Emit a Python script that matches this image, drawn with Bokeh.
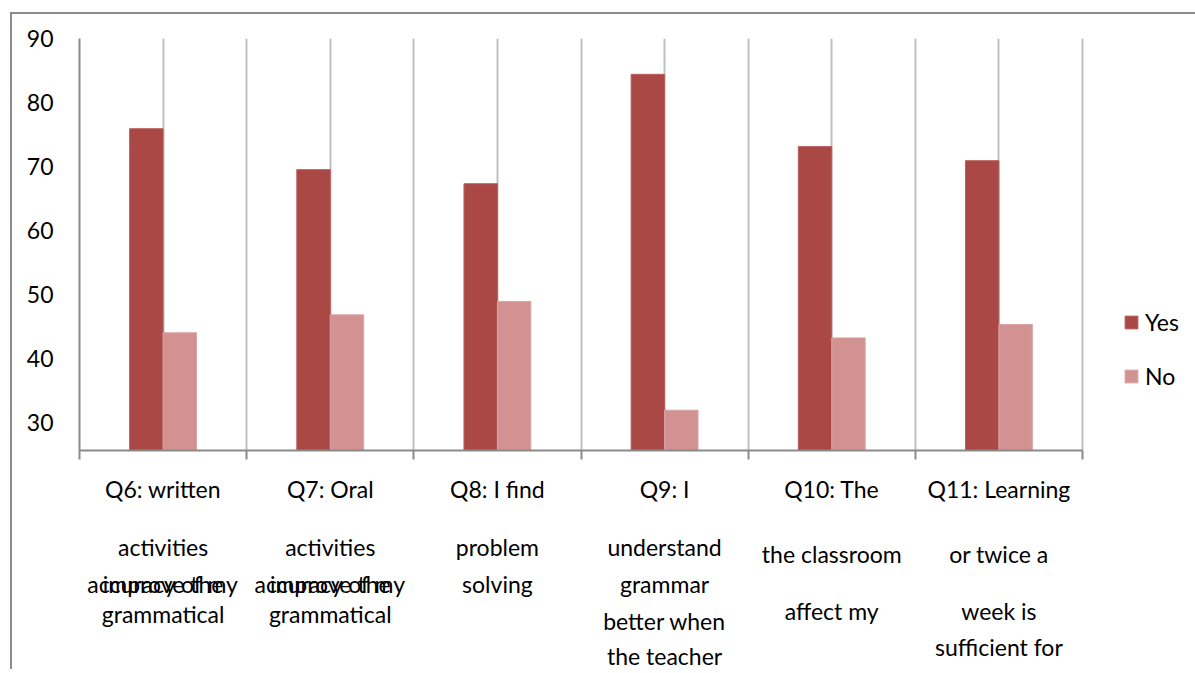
import numpy as np
from bokeh.plotting import figure
from bokeh.layouts import column
from bokeh.models import ColumnDataSource, FixedTicker, Range1d, Legend, LegendItem
from bokeh.core.properties import value
from bokeh.embed import file_html
from bokeh.resources import INLINE

# ---------------- data ----------------
categories = ["Q6", "Q7", "Q8", "Q9", "Q10", "Q11"]
yes_values = [75.9, 69.5, 67.3, 84.4, 73.1, 70.9]
no_values = [44.0, 46.8, 48.9, 31.9, 43.2, 45.3]
y_ticks = [30, 40, 50, 60, 70, 80, 90]
category_label_lines = [
    ["Q6: written", "activities", "improve the", "accuracy of my", "grammatical"],
    ["Q7: Oral", "activities", "improve the", "accuracy of my", "grammatical"],
    ["Q8: I find", "problem", "solving"],
    ["Q9: I", "understand", "grammar", "better when", "the teacher"],
    ["Q10: The", "the classroom", "affect my"],
    ["Q11: Learning", "or twice a", "week is", "sufficient for"],
]

# ---------------- layout / style ----------------
LINE_OFFSETS = [          # px below the x axis line
    [38, 96, 133, 133, 163],
    [38, 96, 133, 133, 163],
    [38, 96, 133],
    [38, 96, 133, 170, 205],
    [38, 103, 160],
    [38, 103, 160, 196],
]
FONT = "Lato"
YES_COLOR = "#AA4845"
NO_COLOR = "#D39292"
AXIS_COLOR = "#8A8A8A"
GRID_COLOR = "#C0C0C0"
BAR_W = 0.2

W = 1183            # figure width
LEFT = 67           # left border -> frame starts at x=79 in the window
CAT_PX = 1003 / 6   # pixels per category
TOP = 24
PLOT_H = 412        # frame height
BOT1 = 14           # space below frame in the top figure
H1 = TOP + PLOT_H + BOT1
H2 = 655 - H1

n = len(categories)
centers = np.arange(n) + 0.5
x_end = (W - LEFT) / CAT_PX

src = ColumnDataSource(dict(
    x_yes=centers - BAR_W / 2,
    x_no=centers + BAR_W / 2,
    yes=yes_values,
    no=no_values,
))

xr = Range1d(0, x_end)
p = figure(width=W, height=H1, output_backend="svg", toolbar_location=None,
           x_range=xr, y_range=Range1d(25.6, 90),
           min_border_left=LEFT, min_border_right=0, min_border_top=TOP, min_border_bottom=BOT1)
p.outline_line_color = None

r_yes = p.vbar(x="x_yes", top="yes", bottom=0, width=BAR_W, source=src,
               fill_color=YES_COLOR, line_color="#B65E5B", line_width=1)
r_no = p.vbar(x="x_no", top="no", bottom=0, width=BAR_W, source=src,
              fill_color=NO_COLOR, line_color="#DBA3A2", line_width=1)

# grid
p.ygrid.grid_line_color = None
p.xgrid.ticker = FixedTicker(ticks=list(np.arange(0, n + 0.01, 0.5)))
p.xgrid.grid_line_color = GRID_COLOR
p.xgrid.grid_line_width = 2

# y axis
p.yaxis.ticker = FixedTicker(ticks=y_ticks)
p.yaxis.axis_line_color = AXIS_COLOR
p.yaxis.axis_line_width = 2
p.yaxis.major_tick_line_color = None
p.yaxis.major_tick_out = 0
p.yaxis.major_tick_in = 0
p.yaxis.minor_tick_line_color = None
p.yaxis.major_label_standoff = 26
p.yaxis.major_label_text_font = FONT
p.yaxis.major_label_text_font_size = "23px"
p.yaxis.major_label_text_color = "black"

# x axis (boundary ticks only)
p.xaxis.bounds = (0, n)
p.xaxis.ticker = FixedTicker(ticks=list(range(n + 1)))
p.xaxis.axis_line_color = AXIS_COLOR
p.xaxis.axis_line_width = 2
p.xaxis.major_tick_line_color = AXIS_COLOR
p.xaxis.major_tick_line_width = 2
p.xaxis.major_tick_out = 9
p.xaxis.major_tick_in = 0
p.xaxis.minor_tick_line_color = None
p.xaxis.major_label_overrides = {i: "" for i in range(n + 1)}
p.xaxis.major_label_text_font_size = "1px"
p.xaxis.major_label_standoff = 0

# legend (inside the extended frame, right of the bars)
legend = Legend(items=[LegendItem(label="Yes", renderers=[r_yes]),
                       LegendItem(label="No", renderers=[r_no])],
                location=(1044, 60), orientation="vertical")
legend.border_line_color = None
legend.background_fill_alpha = 0
legend.padding = 0
legend.margin = 0
legend.spacing = 26
legend.glyph_width = 16
legend.glyph_height = 16
legend.label_standoff = 6
legend.label_text_font = FONT
legend.label_text_font_size = "23px"
legend.label_text_color = "black"
p.add_layout(legend, "center")

# category labels in a companion figure sharing the x range
lx, ly, lt = [], [], []
for i, lines in enumerate(category_label_lines):
    for j, t in enumerate(lines):
        lx.append(centers[i])
        ly.append(-LINE_OFFSETS[i][j])
        lt.append(t)
lab_src = ColumnDataSource(dict(x=lx, y=ly, text=lt))

p2 = figure(width=W, height=H2, output_backend="svg", toolbar_location=None,
            x_range=xr, y_range=Range1d(-(BOT1 + H2), -BOT1),
            min_border_left=LEFT, min_border_right=0, min_border_top=0, min_border_bottom=0)
p2.axis.visible = False
p2.grid.grid_line_color = None
p2.outline_line_color = None
p2.text(x="x", y="y", text="text", source=lab_src, text_align="center", text_baseline="middle",
        text_font=value(FONT), text_font_size="23px", text_color="black")

layout = column(p, p2, spacing=0, margin=(12, 0, 0, 10))
layout.styles = {"border-top": "2px solid #8C8C8C", "border-left": "2px solid #8C8C8C"}

open("out.html", "w").write(file_html(layout, INLINE))
